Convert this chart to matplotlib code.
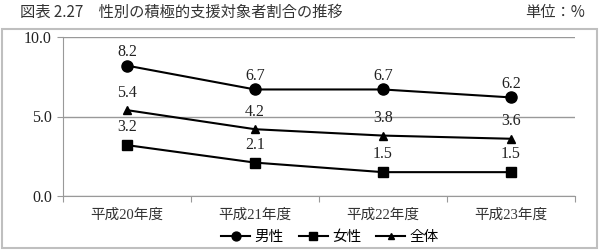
import matplotlib
matplotlib.use("Agg")
import matplotlib.pyplot as plt
from matplotlib.patches import Rectangle

categories = ["平成20年度", "平成21年度", "平成22年度", "平成23年度"]
male = [8.2, 6.7, 6.7, 6.2]
female = [3.2, 2.1, 1.5, 1.5]
total = [5.4, 4.2, 3.8, 3.6]
series_names = ["男性", "女性", "全体"]
yticks = [0.0, 5.0, 10.0]

FAM = ["Liberation Serif", "Noto Sans CJK JP"]
JP = ["Noto Sans CJK JP", "DejaVu Sans"]

fig = plt.figure(figsize=(6.03, 2.5), dpi=100)
W, H = 603, 250
ax = fig.add_axes([63 / W, 1 - 196 / H, (575 - 63) / W, (196 - 37) / H])

# outer frame
fig.patches.append(Rectangle((2 / W, 2 / H), (597 - 2) / W, (219) / H,
                             transform=fig.transFigure, fill=False,
                             edgecolor="#bfbfbf", linewidth=1.5))

fig.text(20 / W, 1 - 12 / H, "図表 2.27　性別の積極的支援対象者割合の推移",
         family=JP, fontsize=11, va="center", ha="left", color="#333333")
fig.text(585 / W, 1 - 12 / H, "単位：%", family=JP, fontsize=11,
         va="center", ha="right", color="#333333")

x = list(range(len(categories)))
l1, = ax.plot(x, male, color="black", marker="o", markersize=8, linewidth=1.5)
l2, = ax.plot(x, female, color="black", marker="s", markersize=7.5, linewidth=1.5)
l3, = ax.plot(x, total, color="black", marker="^", markersize=5.5, linewidth=1.5)

LS = 11.5
for xi, v in zip(x, male):
    ax.annotate(f"{v:.1f}", (xi, v), xytext=(0, 10), textcoords="offset points",
                ha="center", va="center", fontsize=LS, family=FAM, color="#222222")
for xi, v in zip(x, female):
    ax.annotate(f"{v:.1f}", (xi, v), xytext=(0, 13), textcoords="offset points",
                ha="center", va="center", fontsize=LS, family=FAM, color="#222222")
for xi, v in zip(x, total):
    ax.annotate(f"{v:.1f}", (xi, v), xytext=(0, 12.5), textcoords="offset points",
                ha="center", va="center", fontsize=LS, family=FAM, color="#222222")

ax.set_xlim(-0.5, len(categories) - 0.5)
ax.set_ylim(0, 10)
ax.set_yticks(yticks)
ax.set_yticklabels([f"{t:.1f}" for t in yticks], family=FAM, fontsize=LS, color="#222222")
ax.set_xticks([i - 0.5 for i in range(len(categories) + 1)])
ax.set_xticklabels([])
ax.set_xticks(x, minor=True)
ax.set_xticklabels(categories, minor=True, family=FAM, fontsize=10.5, color="#333333")
ax.tick_params(axis="x", which="minor", length=0, pad=9)
ax.tick_params(axis="x", which="major", length=4, color="#999999")
ax.tick_params(axis="y", length=4, color="#999999", pad=4)

for s in ["top", "right"]:
    ax.spines[s].set_visible(False)
for s in ["left", "bottom"]:
    ax.spines[s].set_color("#999999")
ax.yaxis.grid(True, color="#999999", linewidth=1)
ax.set_axisbelow(True)

leg = fig.legend([l1, l2, l3], series_names, loc="center", bbox_to_anchor=(330 / W, 1 - 237 / H),
                 ncol=3, frameon=False, prop={"family": JP, "size": 10.5},
                 handlelength=2.0, handletextpad=0.3, columnspacing=1.0, borderpad=0,
                 markerscale=0.8)

fig.savefig("out.png", dpi=100)
